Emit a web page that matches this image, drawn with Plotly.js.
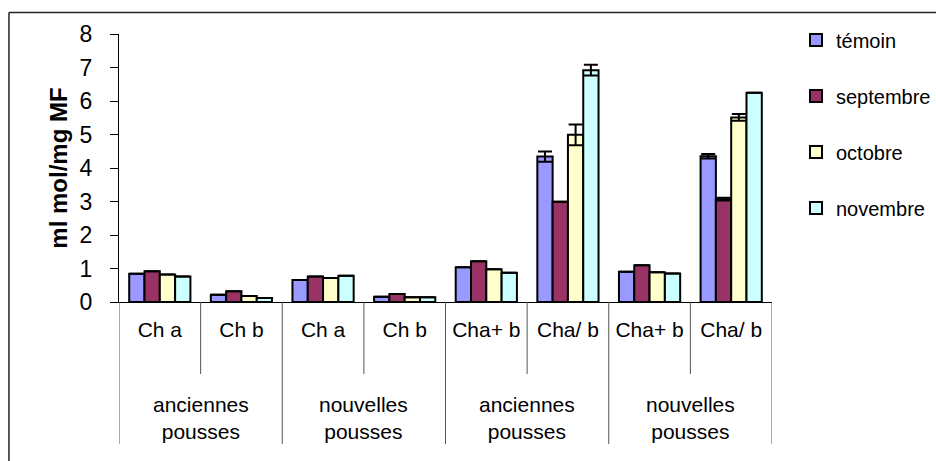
<!DOCTYPE html>
<html>
<head>
<meta charset="utf-8">
<script src="https://cdn.plot.ly/plotly-3.0.1.min.js"></script>
<style>html,body{margin:0;padding:0;background:#fff;}#chart{width:936px;height:461px;}</style>
</head>
<body>
<div id="chart"></div>
<script>
// ---- data ----
const measures = ['Ch a', 'Ch b', 'Ch a', 'Ch b', 'Cha+ b', 'Cha/ b', 'Cha+ b', 'Cha/ b'];
const shoots = ['anciennes pousses', 'anciennes pousses', 'nouvelles pousses', 'nouvelles pousses',
                'anciennes pousses', 'anciennes pousses', 'nouvelles pousses', 'nouvelles pousses'];
const groupLabels = ['anciennes<br>pousses', 'nouvelles<br>pousses', 'anciennes<br>pousses', 'nouvelles<br>pousses'];
const seriesNames = ['témoin', 'septembre', 'octobre', 'novembre'];
const temoin    = [0.84, 0.22, 0.66, 0.16, 1.04, 4.34, 0.90, 4.35];
const septembre = [0.92, 0.32, 0.76, 0.24, 1.22, 2.99, 1.10, 3.07];
const octobre   = [0.82, 0.18, 0.72, 0.14, 0.98, 4.99, 0.89, 5.51];
const novembre  = [0.76, 0.12, 0.78, 0.14, 0.87, 6.92, 0.85, 6.25];
const errTemoin    = [0, 0, 0, 0, 0, 0.15, 0, 0.07];
const errSeptembre = [0, 0, 0, 0, 0, 0, 0, 0.04];
const errOctobre   = [0, 0, 0, 0, 0, 0.31, 0, 0.10];
const errNovembre  = [0, 0, 0, 0, 0, 0.16, 0, 0];
const yTicks = [0, 1, 2, 3, 4, 5, 6, 7, 8];

// ---- build ----
const colors = ['#9999FF', '#993366', '#FFFFCC', '#CCFFFF'];
const values = [temoin, septembre, octobre, novembre];
const errs = [errTemoin, errSeptembre, errOctobre, errNovembre];
const keys = measures.map((m, i) => (i + 1) + ' ' + shoots[i] + ' | ' + m);

const traces = seriesNames.map((name, s) => ({
  type: 'bar',
  name: name,
  legendgroup: 'g' + s,
  x: keys,
  y: values[s],
  marker: {color: colors[s], line: {color: '#000', width: 2}},
  error_y: {type: 'data', array: errs[s], visible: true, color: '#000', thickness: 2, width: 7},
  hoverinfo: 'name+y'
}));

const FONT = 'Arial, "Liberation Sans", sans-serif';
const shapes = [];
// inner dividers (between measures within a group)
for (let g = 0; g < 4; g++) {
  const b = 2 * g + 0.5;
  shapes.push({type: 'line', xref: 'x', yref: 'paper', x0: b, x1: b, y0: 0, y1: -0.2687,
               line: {color: '#555', width: 1}});
}
// outer dividers (between shoot groups)
for (let g = 0; g <= 4; g++) {
  const b = 2 * g - 0.5;
  shapes.push({type: 'line', xref: 'x', yref: 'paper', x0: b, x1: b, y0: 0, y1: -0.53,
               line: {color: '#555', width: 1}});
}
// chart area border (left and top edges)
shapes.push({type: 'line', xref: 'paper', yref: 'paper', x0: -0.1685, x1: -0.1685, y0: 1.0802, y1: -0.62,
             line: {color: '#222', width: 1.5}});
shapes.push({type: 'line', xref: 'paper', yref: 'paper', x0: -0.1685, x1: 1.27, y0: 1.0802, y1: 1.0802,
             line: {color: '#222', width: 1.5}});

const annotations = groupLabels.map((t, g) => ({
  xref: 'x', yref: 'paper', x: 2 * g + 0.5, y: -0.4343, text: t, showarrow: false,
  xanchor: 'center', yanchor: 'middle', align: 'center',
  font: {family: FONT, size: 21, color: '#000'}
}));

const layout = {
  width: 936, height: 461,
  margin: {l: 119, r: 164, t: 34, b: 159},
  paper_bgcolor: '#fff', plot_bgcolor: '#fff',
  font: {family: FONT, color: '#000'},
  barmode: 'group', bargap: 0.25, bargroupgap: 0,
  showlegend: true,
  legend: {xref: 'container', x: 0.8504, xanchor: 'left', y: 1.05, yanchor: 'top', tracegroupgap: 27,
           font: {family: FONT, size: 20, color: '#000'}, bgcolor: 'rgba(0,0,0,0)', borderwidth: 0},
  xaxis: {
    type: 'category', tickmode: 'array', tickvals: keys, ticktext: measures,
    ticks: '', showgrid: false, zeroline: false, showline: true, linecolor: '#000', linewidth: 1,
    tickfont: {family: FONT, size: 21, color: '#000'}, ticklabelstandoff: 9,
    range: [-0.5, 7.5], fixedrange: true
  },
  yaxis: {
    range: [0, 8], tickmode: 'array', tickvals: yTicks, ticktext: yTicks.map(String),
    ticks: 'outside', ticklen: 8, tickcolor: '#000', tickwidth: 1,
    showgrid: false, zeroline: false, showline: true, linecolor: '#000', linewidth: 1,
    tickfont: {family: FONT, size: 23, color: '#000'}, ticklabelstandoff: 13,
    title: {text: 'ml mol/mg MF', font: {family: FONT, size: 24, color: '#000', weight: 'bold'}, standoff: 5},
    fixedrange: true
  },
  shapes: shapes,
  annotations: annotations
};

Plotly.newPlot('chart', traces, layout, {displayModeBar: false, staticPlot: true});
</script>
</body>
</html>
